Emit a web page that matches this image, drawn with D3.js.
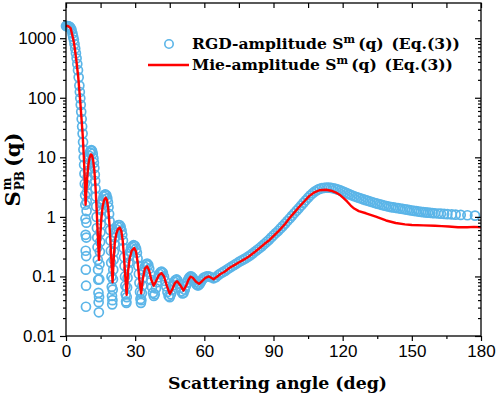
<!DOCTYPE html>
<html>
<head>
<meta charset="utf-8">
<script src="https://cdn.jsdelivr.net/npm/d3@7"></script>
<style>
  body { margin: 0; background: #fff; }
  svg { display: block; }
  .tick text { font-family: "Liberation Sans", Arial, sans-serif; font-size: 17px; fill: #000; }
  .serif { font-family: "DejaVu Serif", serif; font-weight: bold; fill: #000; }
</style>
</head>
<body>
<svg id="chart" width="498" height="398"></svg>
<script>
// RGD amplitude (open circles): [angle deg, S]
const rgd = [
  [0,1600],[0.4,1600],[0.8,1595],[1.2,1580],[1.6,1550],[2.0,1480],[2.4,1380],[2.8,1200],[3.1,1060],[3.4,940],
  [3.7,800],[4.0,670],[4.3,560],[4.6,460],[4.9,370],[5.2,290],[5.5,220],[5.8,160],[6.0,125],[6.2,98],
  [6.4,76],[6.6,58],[6.8,44],[7.0,33],[7.2,25],[7.4,18],[7.55,13.5],[7.7,10],[7.85,7.5],[8.0,5.3],
  [8.15,3.6],[8.3,2.3],[8.38,1.6],[8.45,0.93],[8.5,0.5],[8.55,0.27],[8.6,0.13],[8.65,0.031],[8.7,0.07],[8.75,0.22],
  [8.8,0.45],[8.86,0.8],[8.93,1.25],[9.0,1.8],[9.1,2.6],[9.2,3.4],[9.35,4.6],[9.5,5.9],[9.7,7.6],[9.9,9.2],
  [10.1,10.6],[10.4,12],[10.7,12.9],[11.0,13.2],[11.3,12.8],[11.6,11.5],[11.9,9.6],[12.1,8.1],[12.3,6.6],[12.5,5.1],
  [12.65,4.0],[12.8,3.0],[12.95,2.2],[13.1,1.5],[13.25,1.0],[13.4,0.65],[13.55,0.45],[13.68,0.31],[13.8,0.19],[13.9,0.13],
  [14.0,0.088],[14.08,0.053],[14.16,0.037],[14.24,0.025],[14.34,0.045],[14.44,0.09],[14.55,0.16],[14.68,0.26],[14.8,0.38],[14.95,0.55],
  [15.1,0.75],[15.3,1.0],[15.5,1.3],[15.75,1.65],[16.0,1.95],[16.3,2.2],[16.7,2.35],[17.1,2.38],[17.5,2.3],[17.9,2.05],
  [18.2,1.75],[18.45,1.45],[18.7,1.12],[18.9,0.85],[19.1,0.6],[19.3,0.4],[19.45,0.27],[19.6,0.17],[19.75,0.1],[19.85,0.067],
  [19.95,0.047],[20.05,0.034],[20.15,0.04],[20.25,0.06],[20.37,0.09],[20.5,0.13],[20.65,0.19],[20.8,0.26],[21.0,0.35],[21.25,0.45],
  [21.5,0.54],[21.8,0.62],[22.2,0.69],[22.7,0.73],[23.2,0.73],[23.7,0.68],[24.1,0.59],[24.4,0.5],[24.7,0.4],[24.95,0.3],
  [25.2,0.21],[25.4,0.15],[25.6,0.1],[25.75,0.07],[25.9,0.05],[26.05,0.038],[26.2,0.036],[26.35,0.045],[26.5,0.065],[26.7,0.095],
  [26.9,0.13],[27.15,0.17],[27.45,0.22],[27.8,0.26],[28.2,0.3],[28.7,0.32],[29.3,0.335],[29.9,0.325],[30.4,0.29],[30.75,0.25],
  [31.05,0.2],[31.35,0.15],[31.6,0.11],[31.85,0.078],[32.1,0.055],[32.3,0.042],[32.5,0.036],[32.7,0.04],[32.9,0.052],[33.15,0.07],
  [33.45,0.095],[33.8,0.122],[34.2,0.145],[34.7,0.16],[35.2,0.165],[35.7,0.155],[36.1,0.135],[36.5,0.11],[36.9,0.087],[37.3,0.066],
  [37.7,0.053],[38.1,0.047],[38.5,0.05],[39,0.063],[39.5,0.08],[40,0.097],[40.5,0.11],[41,0.118],[41.5,0.12],[42,0.115],
  [42.5,0.1],[43,0.084],[43.5,0.068],[44,0.055],[44.5,0.047],[45,0.045],[45.5,0.05],[46,0.06],[46.5,0.071],[47,0.081],
  [47.5,0.087],[48,0.089],[48.5,0.084],[49,0.075],[49.5,0.064],[50,0.056],[50.5,0.052],[51,0.053],[51.5,0.06],[52,0.069],
  [52.5,0.079],[53,0.089],[53.5,0.096],[54,0.1],[54.5,0.099],[55,0.094],[55.5,0.087],[56,0.08],[56.5,0.074],[57,0.071],
  [57.5,0.071],[58,0.075],[58.5,0.081],[59,0.087],[59.5,0.093],[60,0.097],[61,0.1],[62,0.1],[63,0.097],[64,0.093],
  [65,0.097],[66,0.105],[67,0.112],[68,0.118],[69,0.124],[70,0.132],[71,0.14],[72,0.148],[73,0.156],[74,0.165],
  [75,0.175],[76,0.184],[77,0.193],[78,0.203],[79,0.215],[80,0.228],[81,0.244],[82,0.262],[83,0.28],[84,0.3],
  [85,0.323],[86,0.35],[87,0.38],[88,0.41],[89,0.45],[90,0.49],[91,0.535],[92,0.58],[93,0.64],[94,0.7],
  [95,0.77],[96,0.85],[97,0.94],[98,1.04],[99,1.15],[100,1.27],[101,1.4],[102,1.55],[103,1.72],[104,1.9],
  [105,2.1],[106,2.3],[107,2.5],[108,2.68],[109,2.83],[110,2.95],[111,3.03],[112,3.08],[113,3.1],[114,3.1],
  [115,3.07],[116,3.02],[117,2.95],[118,2.87],[119,2.78],[120,2.68],[121,2.58],[122,2.48],[123,2.39],[124,2.3],
  [125,2.22],[126,2.15],[127,2.09],[128,2.03],[129,1.97],[130,1.91],[131,1.86],[132,1.81],[133,1.76],[134,1.71],
  [135,1.67],[136,1.63],[137,1.59],[138,1.55],[139,1.52],[140,1.49],[141,1.46],[142,1.44],[143,1.42],[144,1.4],
  [145,1.38],[146,1.36],[147,1.34],[148,1.32],[149,1.3],[150,1.28],[151,1.26],[152,1.245],[153,1.23],[154,1.215],
  [155,1.2],[156,1.19],[157,1.18],[158,1.17],[159,1.16],[160,1.15],[161.4,1.14],[162.6,1.13],[164,1.12],[165.4,1.11],
  [167.3,1.1],[169,1.09],[171.2,1.08],[174.1,1.065],[177.4,1.05]
];

// Mie amplitude (red line): [angle deg, S]
const mie = [
  [0,1620],[1,1590],[2,1480],[2.9,1060],[3.5,820],[3.9,640],[4.5,420],[5.3,225],[6.1,95],[6.6,52],
  [7.2,25],[7.8,9],[8.2,3.7],[8.5,1.6],[8.8,2.6],[9.2,4.6],[9.7,7.5],[10.2,9.8],[10.8,11.2],[11.3,10.8],
  [11.8,8.8],[12.3,6],[12.8,3.2],[13.3,1.3],[13.8,0.5],[14.3,0.19],[14.8,0.45],[15.3,0.9],[15.9,1.5],[16.5,1.9],
  [17.2,2.1],[17.8,1.9],[18.3,1.4],[18.8,0.8],[19.3,0.38],[19.8,0.15],[20.2,0.08],[20.7,0.2],[21.2,0.38],[21.8,0.52],
  [22.5,0.62],[23.3,0.66],[24,0.58],[24.6,0.4],[25.2,0.2],[25.7,0.1],[26.3,0.049],[26.9,0.12],[27.6,0.2],[28.5,0.27],
  [29.6,0.3],[30.4,0.26],[31.1,0.17],[31.8,0.09],[32.6,0.052],[33.3,0.09],[34.2,0.135],[35.2,0.148],[36.1,0.125],[37,0.088],
  [38,0.07],[39,0.082],[40.2,0.104],[41.4,0.114],[42.5,0.1],[43.7,0.07],[45,0.051],[46.2,0.062],[47.2,0.077],[48.2,0.083],
  [49.5,0.072],[51,0.058],[52.2,0.071],[53,0.086],[54,0.099],[55,0.095],[56.3,0.082],[57.7,0.075],[59,0.083],[60.5,0.095],
  [62,0.1],[63,0.095],[64,0.09],[65.5,0.099],[67,0.11],[68.8,0.12],[71,0.14],[73,0.155],[75.3,0.175],[77.5,0.195],
  [79.6,0.22],[82,0.26],[84,0.3],[86,0.35],[88.3,0.41],[90.5,0.5],[92.6,0.6],[95,0.76],[96.9,0.95],[99,1.18],
  [101.3,1.49],[103.5,1.85],[105.6,2.25],[107.5,2.55],[109.9,2.8],[112.8,2.86],[115,2.75],[117.1,2.56],[119,2.3],[120.5,2.05],
  [122,1.8],[123.5,1.55],[125,1.38],[127,1.25],[130.1,1.15],[134.4,1.01],[138.8,0.87],[143,0.79],[147,0.75],[150,0.73],
  [155,0.72],[160,0.71],[163,0.7],[166,0.69],[170,0.67],[174,0.67],[177,0.68],[180,0.67]
];

const xTicks = [0, 30, 60, 90, 120, 150, 180];
const xMinorTicks = [15, 45, 75, 105, 135, 165];
const yTicks = [0.01, 0.1, 1, 10, 100, 1000];
const yTickLabels = ["0.01", "0.1", "1", "10", "100", "1000"];
const yTop = 3900;

const legendLabels = ["RGD-amplitude S", "Mie-amplitude S"];
const blue = "#5bb5e8";
const red = "#ff0000";

const svg = d3.select("#chart");
const pLeft = 66, pRight = 481, pTop = 3, pBottom = 336;

const x = d3.scaleLinear().domain([0, 180]).range([pLeft, pRight]);
const y = d3.scaleLog().domain([0.01, yTop]).range([pBottom, pTop]);

// minor log ticks
const yMinor = [];
yTicks.forEach(d => { for (let k = 2; k <= 9; k++) if (d * k <= yTop) yMinor.push(d * k); });

const plot = svg.append("g");

// circles
plot.selectAll("circle.rgd")
  .data(rgd)
  .enter()
  .append("circle")
  .attr("class", "rgd")
  .attr("cx", d => x(d[0]))
  .attr("cy", d => y(d[1]))
  .attr("r", 4.5)
  .attr("fill", "none")
  .attr("stroke", blue)
  .attr("stroke-width", 1.7);

// red line
const line = d3.line().x(d => x(d[0])).y(d => y(d[1]));
plot.append("path")
  .datum(mie)
  .attr("d", line)
  .attr("fill", "none")
  .attr("stroke", red)
  .attr("stroke-width", 2.4)
  .attr("stroke-linejoin", "round");

// axes
function clean(g) { g.select(".domain").remove(); g.selectAll("line").attr("stroke", "#000").attr("stroke-width", 1.2); }

svg.append("g").attr("transform", `translate(0,${pBottom})`)
  .call(d3.axisBottom(x).tickValues(xTicks).tickSize(5).tickPadding(4).tickFormat(d3.format("d")))
  .call(clean);
svg.append("g").attr("transform", `translate(0,${pBottom})`)
  .call(d3.axisBottom(x).tickValues(xMinorTicks).tickSize(3).tickFormat(""))
  .call(clean);
svg.append("g").attr("transform", `translate(0,${pTop})`)
  .call(d3.axisTop(x).tickValues(xTicks.concat(xMinorTicks)).tickSize(-5).tickFormat(""))
  .call(clean);

svg.append("g").attr("transform", `translate(${pLeft},0)`)
  .call(d3.axisLeft(y).tickValues(yTicks).tickSize(6).tickPadding(4).tickFormat((d, i) => yTickLabels[i]))
  .call(clean);
svg.append("g").attr("transform", `translate(${pLeft},0)`)
  .call(d3.axisLeft(y).tickValues(yMinor).tickSize(3).tickFormat(""))
  .call(clean);
svg.append("g").attr("transform", `translate(${pRight},0)`)
  .call(d3.axisRight(y).tickValues(yTicks).tickSize(-6).tickFormat(""))
  .call(clean);
svg.append("g").attr("transform", `translate(${pRight},0)`)
  .call(d3.axisRight(y).tickValues(yMinor).tickSize(-3).tickFormat(""))
  .call(clean);

svg.selectAll(".tick text").attr("fill", "#000");

svg.append("rect")
  .attr("x", pLeft).attr("y", pTop)
  .attr("width", pRight - pLeft).attr("height", pBottom - pTop)
  .attr("fill", "none").attr("stroke", "#000").attr("stroke-width", 1.3);

// x title
svg.append("text")
  .attr("class", "serif")
  .attr("x", 168).attr("y", 389)
  .attr("font-size", 17)
  .attr("textLength", 219)
  .attr("lengthAdjust", "spacingAndGlyphs")
  .text("Scattering angle (deg)");

// y title: S^m_PB (q)
const yt = svg.append("g").attr("class", "serif");
const ySize = 21, yScript = 12;
const tS = yt.append("text").attr("font-size", ySize).text("S");
const sW = tS.node().getComputedTextLength();
const tM = yt.append("text").attr("font-size", yScript).attr("x", sW + 1).attr("y", -9).text("m");
const tPB = yt.append("text").attr("font-size", yScript).attr("x", sW + 1).attr("y", 4).text("PB");
const scW = Math.max(tM.node().getComputedTextLength(), tPB.node().getComputedTextLength());
const tQ = yt.append("text").attr("font-size", ySize).attr("x", sW + scW + 5).text("(q)");
const yTotal = sW + scW + 5 + tQ.node().getComputedTextLength();
yt.attr("transform", `translate(20,${(pTop + pBottom) / 2 + yTotal / 2}) rotate(-90)`);

// legend
const legend = svg.append("g");
legend.append("circle").attr("cx", 169).attr("cy", 44).attr("r", 4.2)
  .attr("fill", "none").attr("stroke", blue).attr("stroke-width", 1.6);
legend.append("line").attr("x1", 148).attr("x2", 189).attr("y1", 65).attr("y2", 65)
  .attr("stroke", red).attr("stroke-width", 2.5);

const legRows = legendLabels.map((lab, i) => {
  const t = legend.append("text").attr("class", "serif").attr("x", 192).attr("y", 49 + i * 21);
  t.append("tspan").text(lab);
  t.append("tspan").attr("class", "sup").attr("dy", -6).text("m");
  t.append("tspan").attr("class", "rest").attr("dy", 6).text("\u2009(q)\u2002(Eq.(3))");
  return t;
});
function sizeLegend(fs) {
  legRows.forEach(t => {
    t.attr("font-size", fs);
    t.select(".sup").attr("font-size", fs * 0.7);
  });
}
sizeLegend(14);
const w0 = legRows[0].node().getComputedTextLength();
sizeLegend(14 * 268 / w0);
</script>
</body>
</html>
